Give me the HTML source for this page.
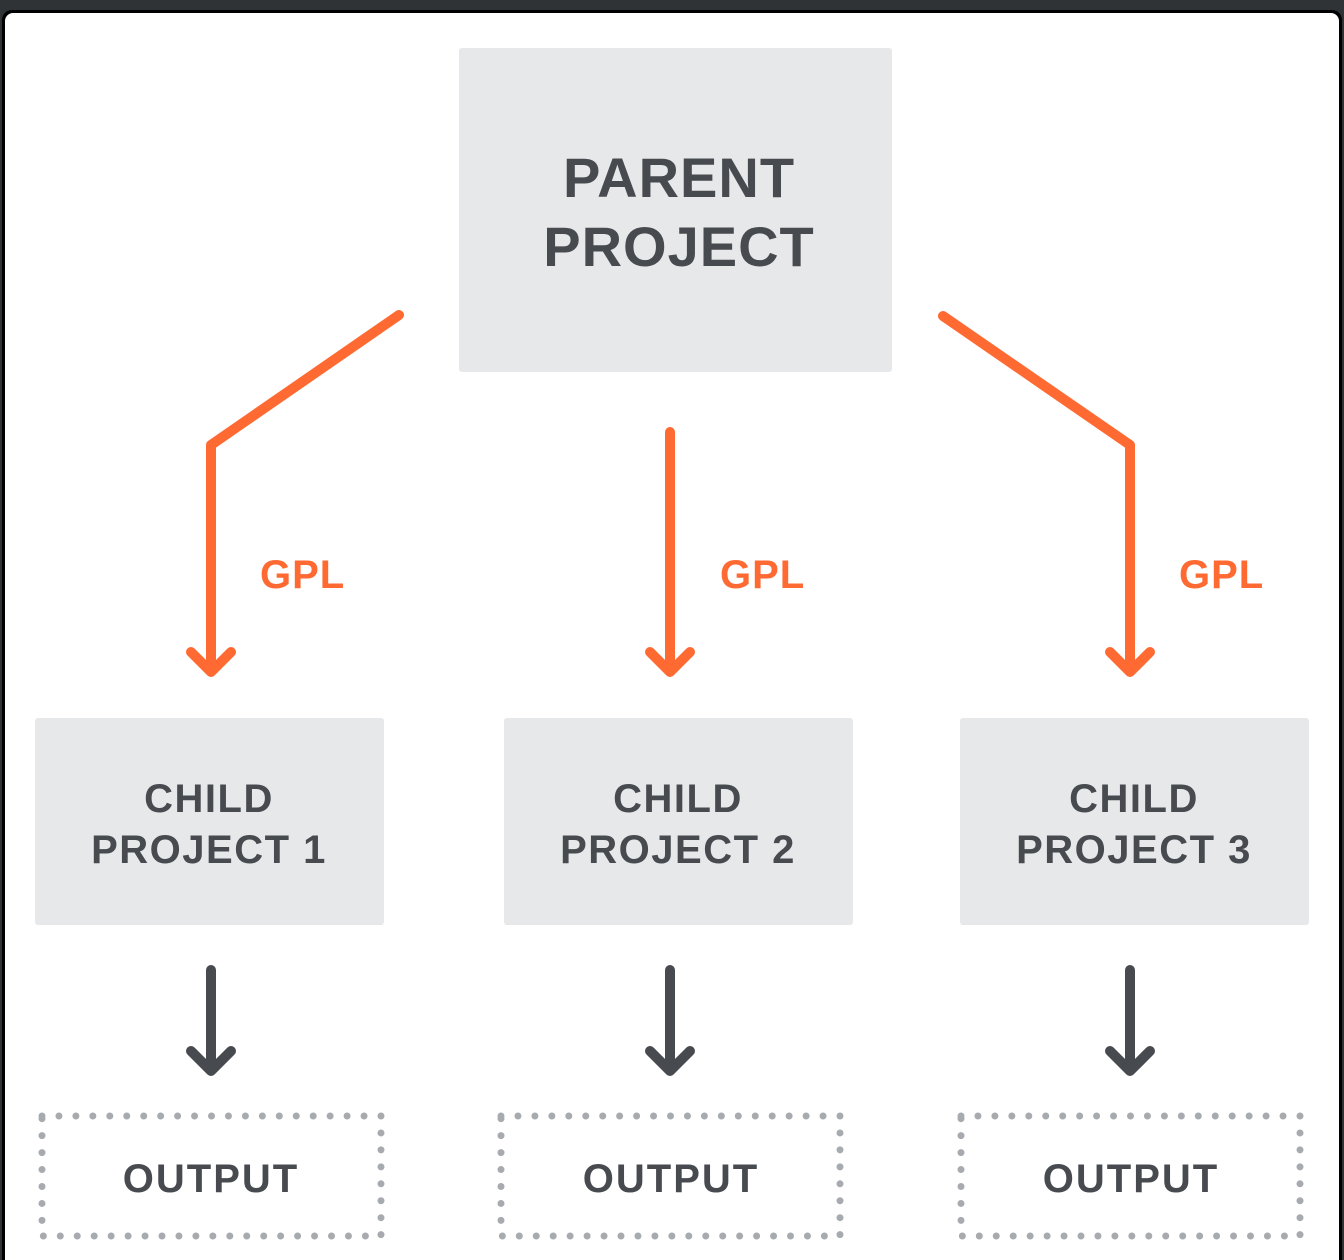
<!DOCTYPE html>
<html><head><meta charset="utf-8"><style>
html,body{margin:0;padding:0;background:#2f3336;}
svg{display:block}
text{font-family:"Liberation Sans",Arial,sans-serif;font-weight:bold;}
</style></head><body>
<svg width="1344" height="1260" viewBox="0 0 1344 1260" xmlns="http://www.w3.org/2000/svg">
<rect x="0" y="0" width="1344" height="1260" fill="#2f3336"/>
<rect x="2" y="10" width="1340" height="1260" rx="10" fill="#000"/>
<rect x="5" y="13" width="1334" height="1260" rx="8" fill="#fff"/>
<rect x="459" y="48" width="433" height="324" rx="3" fill="#e7e8ea"/>
<text x="679" y="197" font-size="56" fill="#474b4f" text-anchor="middle" letter-spacing="1">PARENT</text>
<text x="679" y="266" font-size="56" fill="#474b4f" text-anchor="middle" letter-spacing="1">PROJECT</text>
<g fill="none" stroke="#ff6a33" stroke-width="10" stroke-linecap="round" stroke-linejoin="round">
<polyline points="399,315 211,445 211,668"/>
<polyline points="191,652 211,672 231,652"/>
<line x1="670" y1="432" x2="670" y2="668"/>
<polyline points="650,652 670,672 690,652"/>
<polyline points="943,316 1130,445 1130,668"/>
<polyline points="1110,652 1130,672 1150,652"/>
</g>
<g font-size="40" fill="#ff6a33" letter-spacing="1">
<text x="260" y="588">GPL</text>
<text x="720" y="588">GPL</text>
<text x="1179" y="588">GPL</text>
</g>
<g fill="#e7e8ea">
<rect x="35" y="718" width="349" height="207" rx="3"/>
<rect x="504" y="718" width="349" height="207" rx="3"/>
<rect x="960" y="718" width="349" height="207" rx="3"/>
</g>
<g font-size="40" fill="#474b4f" text-anchor="middle" letter-spacing="1.5">
<text x="209" y="812">CHILD</text><text x="209" y="863">PROJECT 1</text>
<text x="678" y="812">CHILD</text><text x="678" y="863">PROJECT 2</text>
<text x="1134" y="812">CHILD</text><text x="1134" y="863">PROJECT 3</text>
</g>
<g fill="none" stroke="#474b4f" stroke-width="10" stroke-linecap="round" stroke-linejoin="round">
<line x1="211" y1="970" x2="211" y2="1068"/><polyline points="191,1051 211,1071 231,1051"/>
<line x1="670" y1="970" x2="670" y2="1068"/><polyline points="650,1051 670,1071 690,1051"/>
<line x1="1130" y1="970" x2="1130" y2="1068"/><polyline points="1110,1051 1130,1071 1150,1051"/>
</g>
<g fill="none" stroke="#a7abaf" stroke-width="7" stroke-linecap="round" stroke-dasharray="0 16.95">
<rect x="42" y="1116" width="339" height="120"/>
<rect x="501" y="1116" width="339" height="120"/>
<rect x="961" y="1116" width="339" height="120"/>
</g>
<g font-size="40" fill="#474b4f" text-anchor="middle" letter-spacing="2">
<text x="211" y="1192">OUTPUT</text>
<text x="671" y="1192">OUTPUT</text>
<text x="1131" y="1192">OUTPUT</text>
</g>
</svg>
</body></html>
